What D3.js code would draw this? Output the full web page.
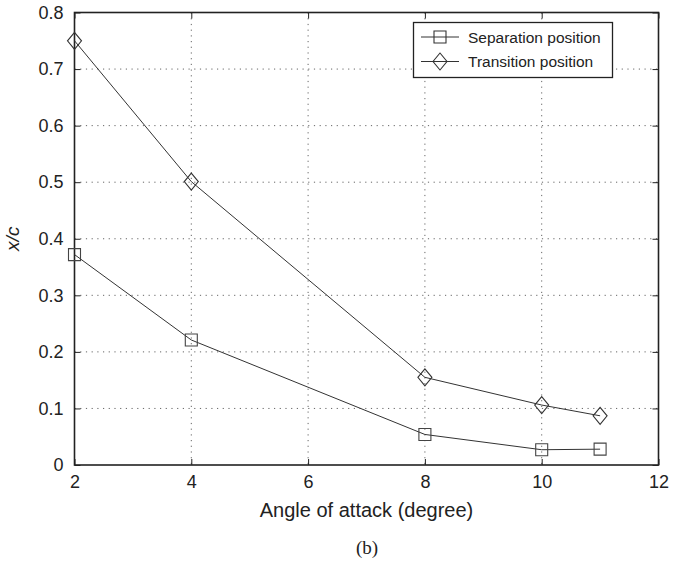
<!DOCTYPE html>
<html>
<head>
<meta charset="utf-8">
<script src="https://cdn.jsdelivr.net/npm/d3@7"></script>
<style>
  html, body { margin: 0; padding: 0; background: #fff; }
  svg { display: block; font-family: "Liberation Sans", Arial, Helvetica, sans-serif; }
</style>
</head>
<body>
<svg id="chart" width="674" height="562"></svg>
<script>
// Angle of attack (degrees) at which positions were measured
const angles = [2, 4, 8, 10, 11];
// Chordwise positions x/c
const separation = [0.372, 0.221, 0.054, 0.027, 0.028];
const transition = [0.750, 0.501, 0.155, 0.106, 0.087];
const seriesNames = ["Separation position", "Transition position"];
const xTicks = [2, 4, 6, 8, 10, 12];
const yTicks = [0, 0.1, 0.2, 0.3, 0.4, 0.5, 0.6, 0.7, 0.8];
const xTitle = "Angle of attack (degree)";
const yTitle = "x/c";
const caption = "(b)";

const svg = d3.select("#chart");
const m = { left: 74.5, right: 658.5, top: 12.5, bottom: 465 };

const x = d3.scaleLinear().domain([2, 12]).range([m.left, m.right]);
const y = d3.scaleLinear().domain([0, 0.8]).range([m.bottom, m.top]);

const ink = "#222";
const tickFont = "18px";

// dotted grid
const grid = svg.append("g");
grid.selectAll("line.gx").data(xTicks.slice(1, -1)).join("line")
  .attr("x1", d => x(d)).attr("x2", d => x(d))
  .attr("y1", m.top).attr("y2", m.bottom)
  .attr("stroke", "#666").attr("stroke-width", 1)
  .attr("stroke-dasharray", "1.2,4.5");
grid.selectAll("line.gy").data(yTicks.slice(1, -1)).join("line")
  .attr("x1", m.left).attr("x2", m.right)
  .attr("y1", d => y(d)).attr("y2", d => y(d))
  .attr("stroke", "#666").attr("stroke-width", 1)
  .attr("stroke-dasharray", "1.2,4.5");

// axes with inward ticks
const tickLen = 6;
const fmtY = d => d === 0 ? "0" : d3.format(".1f")(d);

const xAxisB = svg.append("g").attr("transform", `translate(0,${m.bottom})`)
  .call(d3.axisBottom(x).tickValues(xTicks).tickSize(-tickLen).tickPadding(10).tickFormat(d3.format("d")));
const xAxisT = svg.append("g").attr("transform", `translate(0,${m.top})`)
  .call(d3.axisTop(x).tickValues(xTicks).tickSize(-tickLen).tickFormat(""));
const yAxisL = svg.append("g").attr("transform", `translate(${m.left},0)`)
  .call(d3.axisLeft(y).tickValues(yTicks).tickSize(-tickLen).tickPadding(11).tickFormat(fmtY));
const yAxisR = svg.append("g").attr("transform", `translate(${m.right},0)`)
  .call(d3.axisRight(y).tickValues(yTicks).tickSize(-tickLen).tickFormat(""));

[xAxisB, xAxisT, yAxisL, yAxisR].forEach(g => {
  g.select(".domain").remove();
  g.selectAll(".tick line").attr("stroke", ink).attr("stroke-width", 1);
  g.selectAll("text").attr("fill", ink).style("font-size", tickFont)
    .style("font-family", '"Liberation Sans", Arial, sans-serif');
});

// frame
svg.append("rect")
  .attr("x", m.left).attr("y", m.top)
  .attr("width", m.right - m.left).attr("height", m.bottom - m.top)
  .attr("fill", "none").attr("stroke", ink).attr("stroke-width", 1.6);

// series lines
const line = d3.line().x(d => x(d[0])).y(d => y(d[1]));
const sepPts = angles.map((a, i) => [a, separation[i]]);
const traPts = angles.map((a, i) => [a, transition[i]]);

svg.append("path").datum(sepPts).attr("d", line)
  .attr("fill", "none").attr("stroke", "#333").attr("stroke-width", 1);
svg.append("path").datum(traPts).attr("d", line)
  .attr("fill", "none").attr("stroke", "#333").attr("stroke-width", 1);

// markers
const sq = 12, dw = 7, dh = 8.5;
const squarePath = (cx, cy) => `M${cx - sq / 2},${cy - sq / 2}h${sq}v${sq}h${-sq}Z`;
const diamondPath = (cx, cy) => `M${cx},${cy - dh}L${cx + dw},${cy}L${cx},${cy + dh}L${cx - dw},${cy}Z`;

svg.append("g").selectAll("path").data(sepPts).join("path")
  .attr("d", d => squarePath(x(d[0]), y(d[1])))
  .attr("fill", "none").attr("stroke", "#444").attr("stroke-width", 1.1);
svg.append("g").selectAll("path").data(traPts).join("path")
  .attr("d", d => diamondPath(x(d[0]), y(d[1])))
  .attr("fill", "none").attr("stroke", "#333").attr("stroke-width", 1.1);

// legend
const lg = svg.append("g");
lg.append("rect").attr("x", 413.5).attr("y", 22.5).attr("width", 199).attr("height", 55)
  .attr("fill", "#fff").attr("stroke", ink).attr("stroke-width", 1.3);
const rows = [
  { name: seriesNames[0], yy: 37, mark: squarePath },
  { name: seriesNames[1], yy: 61.5, mark: diamondPath }
];
rows.forEach(r => {
  lg.append("line").attr("x1", 421).attr("x2", 459).attr("y1", r.yy).attr("y2", r.yy)
    .attr("stroke", "#333").attr("stroke-width", 1);
  lg.append("path").attr("d", r.mark(440, r.yy)).attr("fill", "none")
    .attr("stroke", "#333").attr("stroke-width", 1.1);
  lg.append("text").attr("x", 468).attr("y", r.yy + 5.5).text(r.name)
    .attr("fill", ink).style("font-size", "15.5px");
});

// titles
svg.append("text").attr("x", (m.left + m.right) / 2).attr("y", 517)
  .attr("text-anchor", "middle").attr("fill", ink).style("font-size", "20px").text(xTitle);
svg.append("text").attr("transform", `translate(19,${(m.top + m.bottom) / 2}) rotate(-90)`)
  .attr("text-anchor", "middle").attr("fill", ink).style("font-size", "19px")
  .style("font-style", "italic").text(yTitle);
svg.append("text").attr("x", 367).attr("y", 554)
  .attr("text-anchor", "middle").attr("fill", ink)
  .style("font-family", '"Liberation Serif", "Times New Roman", serif').style("font-size", "19px").text(caption);
</script>
</body>
</html>
